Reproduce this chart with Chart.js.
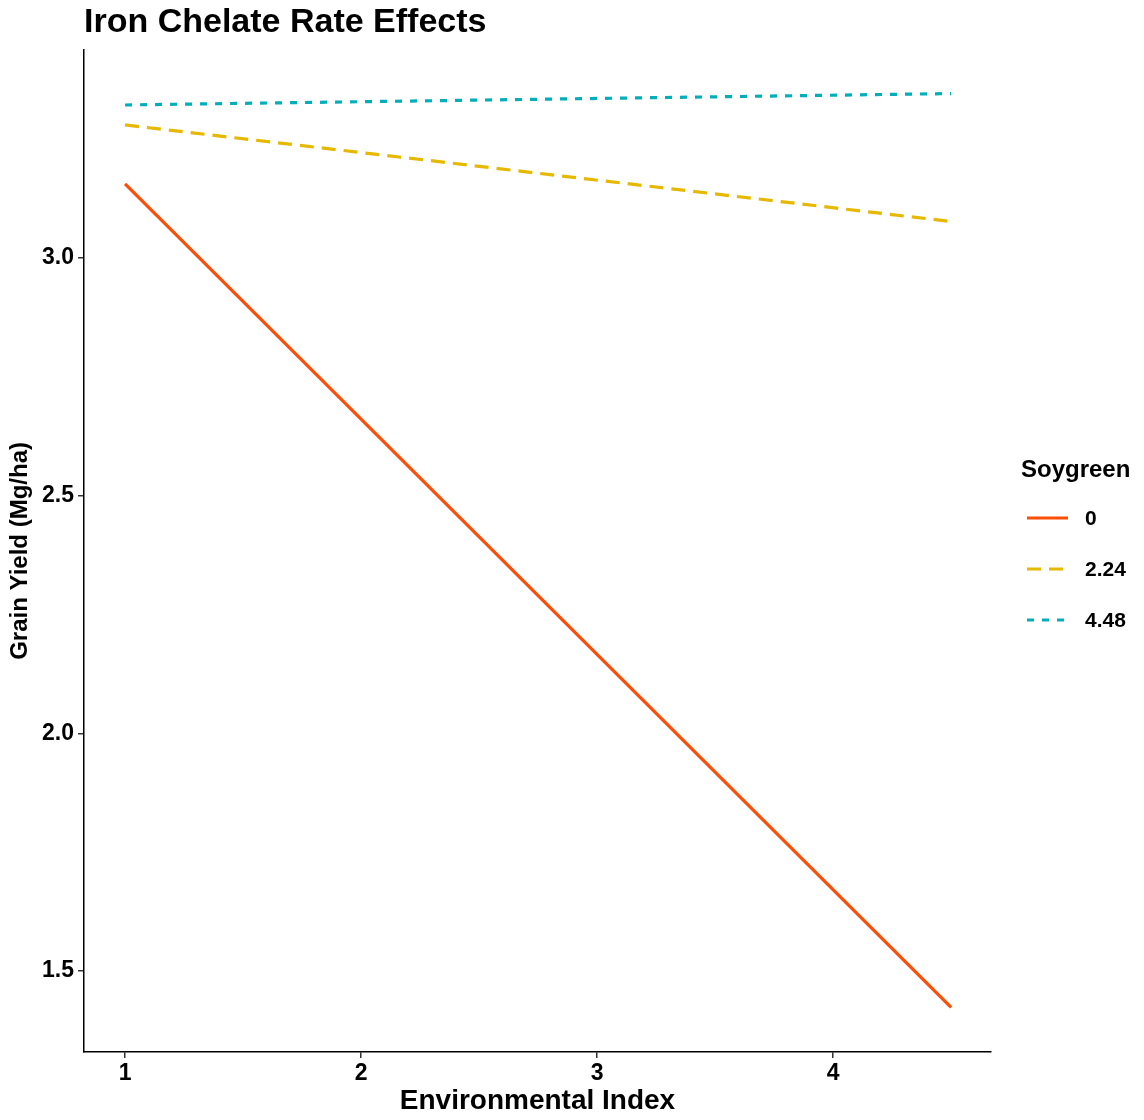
<!DOCTYPE html>
<html lang="en">
<head>
    <meta charset="UTF-8">
    <title>Iron Chelate Rate Effects</title>
    <script src="https://cdn.jsdelivr.net/npm/chart.js"></script>
    <style>
        body { margin: 0; background: #fff; }
    </style>
</head>
<body>
    <canvas id="myChart" width="1144" height="1120"></canvas>
    <script>
        // Fitted yield lines for each Soygreen rate
        const envIndex = [1, 4.5];
        const rates = ['0', '2.24', '4.48'];
        const yield0 = [3.155, 1.424];
        const yield224 = [3.279, 3.076];
        const yield448 = [3.321, 3.345];
        const xTicks = [1, 2, 3, 4];
        const yTicks = [1.5, 2.0, 2.5, 3.0];

        const FONT = "'Liberation Sans', Arial, Helvetica, sans-serif";

        const toPoints = vals => vals.map((v, i) => ({ x: envIndex[i], y: v }));

        // legend drawn on the right, like the ggplot guide
        const legendPlugin = {
            id: 'sideLegend',
            afterDraw(chart) {
                const ctx = chart.ctx;
                ctx.save();
                ctx.fillStyle = '#000';
                ctx.textBaseline = 'middle';
                ctx.textAlign = 'left';
                ctx.font = 'bold 24px ' + FONT;
                ctx.fillText('Soygreen', 1021, 470);
                ctx.font = 'bold 21px ' + FONT;
                chart.data.datasets.forEach((ds, i) => {
                    const y = 518 + i * 51;
                    ctx.strokeStyle = ds.borderColor;
                    ctx.lineWidth = ds.borderWidth;
                    ctx.setLineDash(ds.borderDash || []);
                    ctx.beginPath();
                    ctx.moveTo(1027, y);
                    ctx.lineTo(1068, y);
                    ctx.stroke();
                    ctx.setLineDash([]);
                    ctx.fillText(ds.label, 1085, y + 1);
                });
                ctx.restore();
            }
        };

        const ctx = document.getElementById('myChart').getContext('2d');
        const myChart = new Chart(ctx, {
            type: 'scatter',
            data: {
                datasets: [
                    {
                        label: rates[0],
                        data: toPoints(yield0),
                        borderColor: '#FC4E07',
                        borderWidth: 3.2,
                        showLine: true,
                        pointRadius: 0,
                    },
                    {
                        label: rates[1],
                        data: toPoints(yield224),
                        borderColor: '#E7B800',
                        borderWidth: 3.2,
                        borderDash: [14, 8],
                        showLine: true,
                        pointRadius: 0,
                    },
                    {
                        label: rates[2],
                        data: toPoints(yield448),
                        borderColor: '#00AFBB',
                        borderWidth: 3.2,
                        borderDash: [7, 8],
                        showLine: true,
                        pointRadius: 0,
                    },
                ],
            },
            options: {
                responsive: false,
                animation: false,
                layout: {
                    padding: { top: 2, right: 153, bottom: 2, left: 6 },
                },
                plugins: {
                    legend: { display: false },
                    tooltip: { enabled: false },
                    title: {
                        display: true,
                        text: 'Iron Chelate Rate Effects',
                        align: 'start',
                        fullSize: false,
                        color: '#000',
                        font: { family: FONT, size: 34, weight: 'bold' },
                        padding: { top: 0, bottom: 7 },
                    },
                },
                scales: {
                    x: {
                        type: 'linear',
                        min: 0.826,
                        max: 4.669,
                        afterBuildTicks: scale => {
                            scale.ticks = xTicks.map(v => ({ value: v }));
                        },
                        afterFit: scale => { scale.height = 66; },
                        grid: {
                            display: true,
                            drawOnChartArea: false,
                            drawTicks: true,
                            tickLength: 6,
                            color: '#333',
                            lineWidth: 1.5,
                        },
                        border: { display: true, color: '#000', width: 1.5 },
                        ticks: {
                            color: '#000',
                            padding: 2,
                            maxRotation: 0,
                            font: { family: FONT, size: 23, weight: 'bold' },
                            callback: v => String(v),
                        },
                        title: {
                            display: true,
                            text: 'Environmental Index',
                            color: '#000',
                            font: { family: FONT, size: 28, weight: 'bold' },
                            padding: { top: 0, bottom: 0 },
                        },
                    },
                    y: {
                        min: 1.33,
                        max: 3.437,
                        afterBuildTicks: scale => {
                            scale.ticks = yTicks.map(v => ({ value: v }));
                        },
                        afterFit: scale => { scale.width = 78; },
                        grid: {
                            display: true,
                            drawOnChartArea: false,
                            drawTicks: true,
                            tickLength: 6,
                            color: '#333',
                            lineWidth: 1.5,
                        },
                        border: { display: true, color: '#000', width: 1.5 },
                        ticks: {
                            color: '#000',
                            padding: 4,
                            font: { family: FONT, size: 23, weight: 'bold' },
                            callback: v => v.toFixed(1),
                        },
                        title: {
                            display: true,
                            text: 'Grain Yield (Mg/ha)',
                            color: '#000',
                            font: { family: FONT, size: 24, weight: 'bold' },
                            padding: { top: 0, bottom: 2 },
                        },
                    },
                },
            },
            plugins: [legendPlugin],
        });
    </script>
</body>
</html>
